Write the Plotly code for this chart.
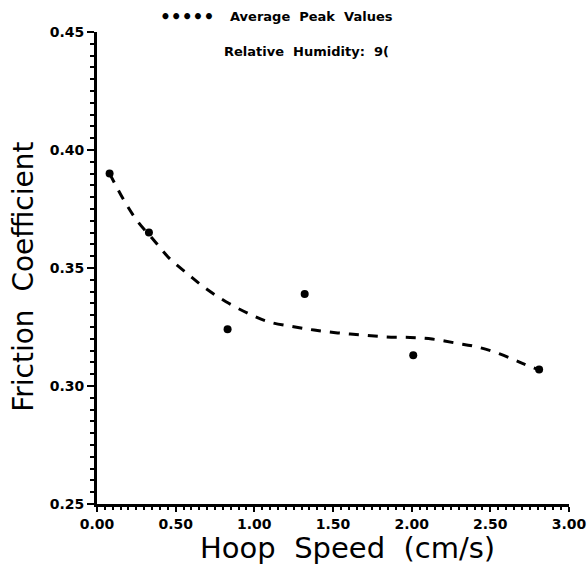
import plotly.graph_objects as go

# Measured average peak values
speed = [0.08, 0.33, 0.83, 1.32, 2.01, 2.81]
friction = [0.390, 0.365, 0.324, 0.339, 0.313, 0.307]

# Dashed fitted curve
curve_x = [0.08, 0.18, 0.26, 0.36, 0.46, 0.58, 0.69, 0.82, 0.96, 1.09, 1.25,
           1.38, 1.53, 1.69, 1.84, 1.99, 2.13, 2.28, 2.42, 2.56, 2.70, 2.81]
curve_y = [0.390, 0.3777, 0.3696, 0.3619, 0.3541, 0.3473, 0.3414, 0.3357, 0.3308, 0.3272, 0.3251,
           0.3237, 0.3225, 0.3216, 0.3208, 0.3206, 0.3199, 0.3182, 0.3165, 0.3136, 0.3097, 0.3068]

x_ticks = [0.0, 0.5, 1.0, 1.5, 2.0, 2.5, 3.0]
x_labels = ["0.00", "0.50", "1.00", "1.50", "2.00", "2.50", "3.00"]
y_ticks = [0.25, 0.30, 0.35, 0.40, 0.45]
y_labels = ["0.25", "0.30", "0.35", "0.40", "0.45"]

FONT = "DejaVu Sans"

fig = go.Figure()
fig.add_trace(go.Scatter(x=curve_x, y=curve_y, mode="lines",
                         line=dict(color="black", width=3, dash="10px,9px"),
                         line_shape="spline", showlegend=False))
fig.add_trace(go.Scatter(x=speed, y=friction, mode="markers",
                         marker=dict(color="black", size=8), showlegend=False))

fig.update_layout(
    width=588, height=569,
    margin=dict(l=97, r=19, t=32, b=65, autoexpand=False),
    paper_bgcolor="white", plot_bgcolor="white",
    font=dict(family=FONT, color="black"),
    xaxis=dict(range=[0, 3], tickvals=x_ticks, ticktext=x_labels, automargin=False,
               ticklabeloverflow="allow",
               showgrid=False, zeroline=False, showline=True, linecolor="black", linewidth=3,
               ticks="outside", ticklen=5, tickwidth=2, tickcolor="black",
               minor=dict(dtick=0.05, ticks="outside", ticklen=3, tickwidth=2, tickcolor="black"),
               tickfont=dict(size=14, weight="bold"), fixedrange=True),
    yaxis=dict(range=[0.25, 0.45], tickvals=y_ticks, ticktext=y_labels, automargin=False,
               showgrid=False, zeroline=False, showline=True, linecolor="black", linewidth=3,
               ticks="outside", ticklen=7, tickwidth=2, tickcolor="black",
               minor=dict(dtick=0.005, ticks="outside", ticklen=4, tickwidth=2, tickcolor="black"),
               tickfont=dict(size=14, weight="bold"), fixedrange=True),
    annotations=[
        dict(text="Hoop  Speed  (cm/s)", xref="paper", yref="paper", x=0.53, y=-0.093,
             showarrow=False, font=dict(size=29), xanchor="center", yanchor="middle"),
        dict(text="Friction  Coefficient", xref="paper", yref="paper", x=-0.155, y=0.481,
             showarrow=False, font=dict(size=28), textangle=-90, xanchor="center", yanchor="middle"),
        dict(text="<b>•••••</b>", xref="paper", yref="paper", x=0.13, y=1.032,
             showarrow=False, font=dict(size=17), xanchor="left", yanchor="middle"),
        dict(text="<b>Average  Peak  Values</b>", xref="paper", yref="paper", x=0.278, y=1.032,
             showarrow=False, font=dict(size=13), xanchor="left", yanchor="middle"),
        dict(text="<b>Relative  Humidity:  9(</b>", xref="paper", yref="paper", x=0.265, y=0.958,
             showarrow=False, font=dict(size=13), xanchor="left", yanchor="middle"),
    ],
)

fig.write_html("out.html", config={"displayModeBar": False},
               post_script="document.body.style.margin='0';")
